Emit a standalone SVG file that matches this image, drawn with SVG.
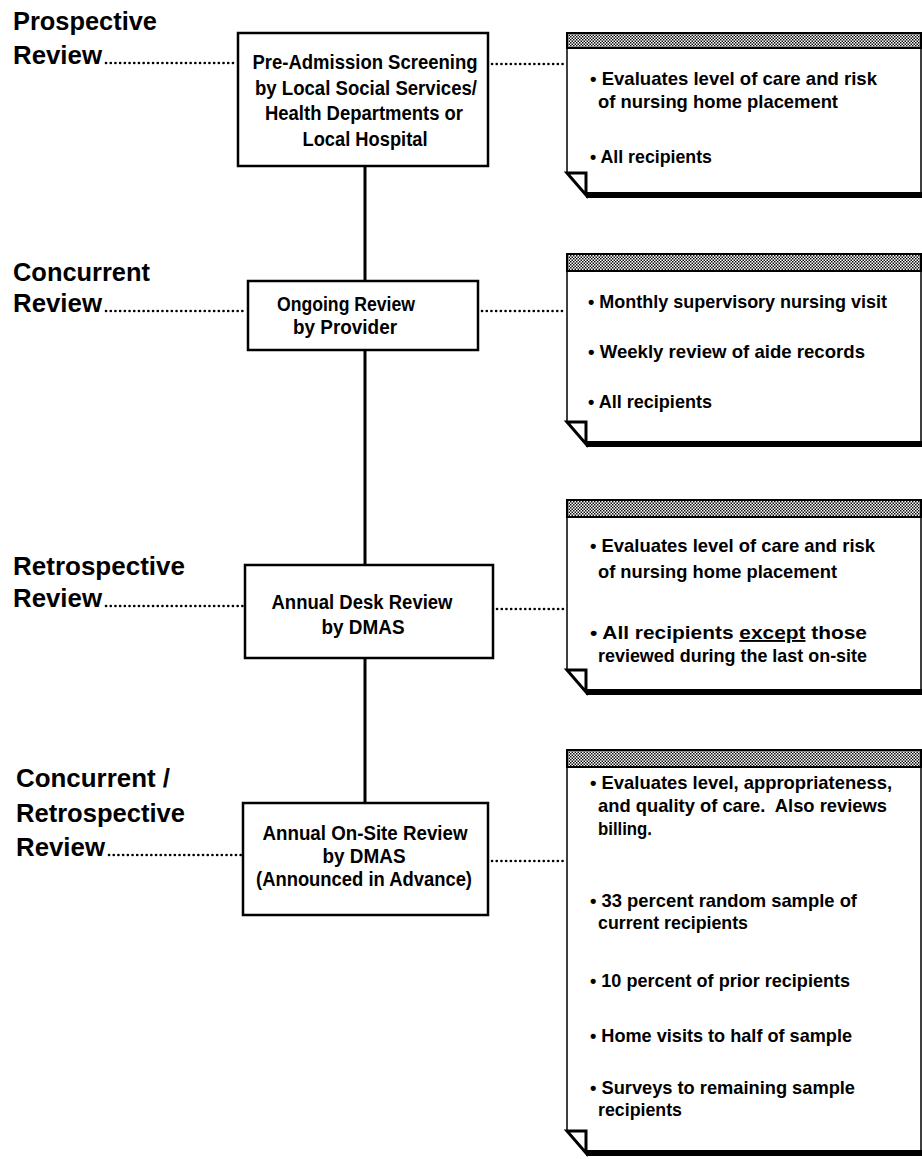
<svg xmlns="http://www.w3.org/2000/svg" width="922" height="1159" viewBox="0 0 922 1159">
<defs>
<pattern id="hatch" width="3" height="3" patternUnits="userSpaceOnUse">
<rect width="3" height="3" fill="#fff"/>
<rect x="0" y="0" width="1.5" height="1.5" fill="#111"/>
<rect x="1.5" y="1.5" width="1.5" height="1.5" fill="#111"/>
</pattern>
<style>
.lbl{font-family:"Liberation Sans",Arial,sans-serif;font-weight:bold;font-size:25px;fill:#000}
.bx{font-family:"Liberation Sans",Arial,sans-serif;font-weight:bold;font-size:20px;fill:#000;text-anchor:middle}
.nt{font-family:"Liberation Sans",Arial,sans-serif;font-weight:bold;font-size:19px;fill:#000}
.box{fill:#fff;stroke:#000;stroke-width:2.5}
.dots{stroke:#000;stroke-width:2.6;stroke-linecap:round;stroke-dasharray:0.1 4.6;fill:none}
.vline{stroke:#000;stroke-width:3;fill:none}
.nbody{fill:#fff;stroke:#000;stroke-width:1.5}
.band{fill:url(#hatch);stroke:#000;stroke-width:2}
.nbot{stroke:#000;stroke-width:6;fill:none}
.fold{stroke:#000;stroke-width:3;fill:#fff;stroke-linejoin:miter}
</style>
</defs>

<g id="labels">
<text class="lbl" x="13" y="30" textLength="144" lengthAdjust="spacingAndGlyphs">Prospective</text>
<text class="lbl" x="13" y="64" textLength="89" lengthAdjust="spacingAndGlyphs">Review</text>
<text class="lbl" x="13" y="281" textLength="137" lengthAdjust="spacingAndGlyphs">Concurrent</text>
<text class="lbl" x="13" y="312" textLength="89" lengthAdjust="spacingAndGlyphs">Review</text>
<text class="lbl" x="13" y="575" textLength="172" lengthAdjust="spacingAndGlyphs">Retrospective</text>
<text class="lbl" x="13" y="607" textLength="89" lengthAdjust="spacingAndGlyphs">Review</text>
<text class="lbl" x="16" y="787" textLength="154" lengthAdjust="spacingAndGlyphs">Concurrent /</text>
<text class="lbl" x="16" y="822" textLength="169" lengthAdjust="spacingAndGlyphs">Retrospective</text>
<text class="lbl" x="16" y="856" textLength="89" lengthAdjust="spacingAndGlyphs">Review</text>
</g>

<g id="connectors">
<line class="dots" x1="106" y1="63" x2="236" y2="63"/>
<line class="dots" x1="106" y1="311" x2="246" y2="311"/>
<line class="dots" x1="106" y1="606" x2="244" y2="606"/>
<line class="dots" x1="109" y1="855" x2="241" y2="855"/>
<line class="dots" x1="492" y1="64" x2="565" y2="64"/>
<line class="dots" x1="482" y1="311" x2="565" y2="311"/>
<line class="dots" x1="497" y1="609" x2="565" y2="609"/>
<line class="dots" x1="492" y1="861" x2="565" y2="861"/>
<line class="vline" x1="365" y1="166" x2="365" y2="281"/>
<line class="vline" x1="365" y1="350" x2="365" y2="565"/>
<line class="vline" x1="365" y1="658" x2="365" y2="803"/>
</g>

<g id="box1">
<rect class="box" x="238" y="33" width="250" height="133"/>
<text class="bx" x="365" y="69" textLength="225" lengthAdjust="spacingAndGlyphs">Pre-Admission Screening</text>
<text class="bx" x="366" y="95" textLength="222" lengthAdjust="spacingAndGlyphs">by Local Social Services/</text>
<text class="bx" x="364" y="120" textLength="198" lengthAdjust="spacingAndGlyphs">Health Departments or</text>
<text class="bx" x="365" y="146" textLength="125" lengthAdjust="spacingAndGlyphs">Local Hospital</text>
</g>

<g id="box2">
<rect class="box" x="248" y="281" width="230" height="69"/>
<text class="bx" x="346" y="311" textLength="138" lengthAdjust="spacingAndGlyphs">Ongoing Review</text>
<text class="bx" x="345" y="334" textLength="104" lengthAdjust="spacingAndGlyphs">by Provider</text>
</g>

<g id="box3">
<rect class="box" x="245" y="565" width="248" height="93"/>
<text class="bx" x="362" y="609" textLength="181" lengthAdjust="spacingAndGlyphs">Annual Desk Review</text>
<text class="bx" x="363" y="634" textLength="83" lengthAdjust="spacingAndGlyphs">by DMAS</text>
</g>

<g id="box4">
<rect class="box" x="243" y="803" width="245" height="112"/>
<text class="bx" x="365" y="840" textLength="205" lengthAdjust="spacingAndGlyphs">Annual On-Site Review</text>
<text class="bx" x="364" y="863" textLength="83" lengthAdjust="spacingAndGlyphs">by DMAS</text>
<text class="bx" x="364" y="886" textLength="216" lengthAdjust="spacingAndGlyphs">(Announced in Advance)</text>
</g>

<g id="note1">
<path class="nbody" d="M567 33 H921 V195 H587 L567 173 Z"/>
<rect class="band" x="567" y="33" width="354" height="15"/>
<line class="nbot" x1="586" y1="195" x2="922" y2="195"/>
<path class="fold" d="M567 173 H586 V195 Z"/>
<text class="nt" x="590" y="85" textLength="287" lengthAdjust="spacingAndGlyphs">• Evaluates level of care and risk</text>
<text class="nt" x="598" y="108" textLength="240" lengthAdjust="spacingAndGlyphs">of nursing home placement</text>
<text class="nt" x="590" y="163" textLength="122" lengthAdjust="spacingAndGlyphs">• All recipients</text>
</g>

<g id="note2">
<path class="nbody" d="M567 254 H921 V444 H587 L567 422 Z"/>
<rect class="band" x="567" y="254" width="354" height="17"/>
<line class="nbot" x1="586" y1="444" x2="922" y2="444"/>
<path class="fold" d="M567 422 H586 V444 Z"/>
<text class="nt" x="588" y="308" textLength="299" lengthAdjust="spacingAndGlyphs">• Monthly supervisory nursing visit</text>
<text class="nt" x="588" y="358" textLength="277" lengthAdjust="spacingAndGlyphs">• Weekly review of aide records</text>
<text class="nt" x="588" y="408" textLength="124" lengthAdjust="spacingAndGlyphs">• All recipients</text>
</g>

<g id="note3">
<path class="nbody" d="M567 500 H921 V692 H587 L567 670 Z"/>
<rect class="band" x="567" y="500" width="354" height="17"/>
<line class="nbot" x1="586" y1="692" x2="922" y2="692"/>
<path class="fold" d="M567 670 H586 V692 Z"/>
<text class="nt" x="590" y="552" textLength="285" lengthAdjust="spacingAndGlyphs">• Evaluates level of care and risk</text>
<text class="nt" x="598" y="578" textLength="239" lengthAdjust="spacingAndGlyphs">of nursing home placement</text>
<text class="nt" x="590" y="639" textLength="277" lengthAdjust="spacingAndGlyphs">• All recipients <tspan text-decoration="underline">except</tspan> those</text>
<text class="nt" x="598" y="662" textLength="269" lengthAdjust="spacingAndGlyphs">reviewed during the last on-site</text>
</g>

<g id="note4">
<path class="nbody" d="M567 750 H921 V1153 H587 L567 1131 Z"/>
<rect class="band" x="567" y="750" width="354" height="17"/>
<line class="nbot" x1="586" y1="1153" x2="922" y2="1153"/>
<path class="fold" d="M567 1131 H586 V1153 Z"/>
<text class="nt" x="590" y="789" textLength="302" lengthAdjust="spacingAndGlyphs">• Evaluates level, appropriateness,</text>
<text class="nt" x="598" y="812" textLength="289" lengthAdjust="spacingAndGlyphs" xml:space="preserve">and quality of care.  Also reviews</text>
<text class="nt" x="598" y="835" textLength="54" lengthAdjust="spacingAndGlyphs">billing.</text>
<text class="nt" x="590" y="907" textLength="267" lengthAdjust="spacingAndGlyphs">• 33 percent random sample of</text>
<text class="nt" x="598" y="929" textLength="150" lengthAdjust="spacingAndGlyphs">current recipients</text>
<text class="nt" x="590" y="987" textLength="260" lengthAdjust="spacingAndGlyphs">• 10 percent of prior recipients</text>
<text class="nt" x="590" y="1042" textLength="262" lengthAdjust="spacingAndGlyphs">• Home visits to half of sample</text>
<text class="nt" x="590" y="1094" textLength="265" lengthAdjust="spacingAndGlyphs">• Surveys to remaining sample</text>
<text class="nt" x="598" y="1116" textLength="84" lengthAdjust="spacingAndGlyphs">recipients</text>
</g>
</svg>
